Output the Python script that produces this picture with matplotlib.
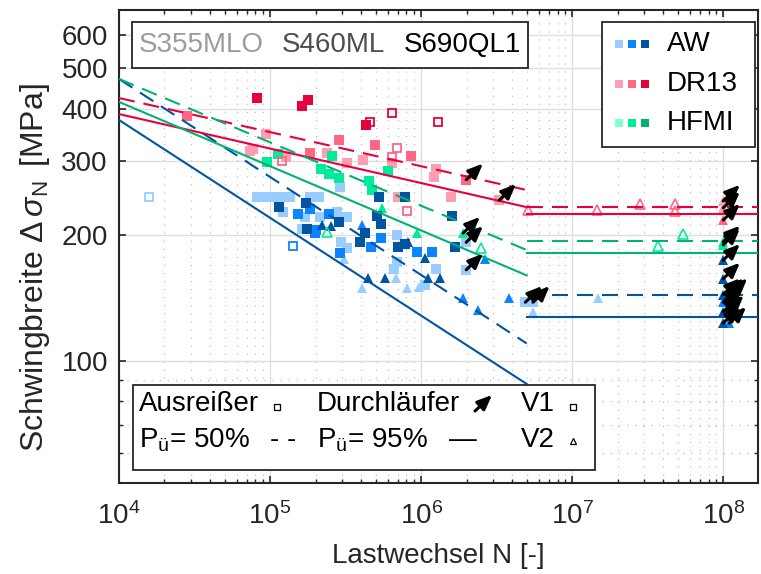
import numpy as np
import matplotlib
matplotlib.use('Agg')
import matplotlib.pyplot as plt
from matplotlib.ticker import FixedLocator, LogLocator, NullFormatter, FuncFormatter
from matplotlib.patches import Rectangle

FONT = 'Liberation Sans'
plt.rcParams['font.family'] = [FONT, 'DejaVu Sans']
plt.rcParams['mathtext.fontset'] = 'custom'
plt.rcParams['mathtext.rm'] = FONT
plt.rcParams['mathtext.it'] = FONT + ':italic'
plt.rcParams['mathtext.bf'] = FONT + ':bold'
plt.rcParams['lines.scale_dashes'] = False

FS = 20

# ---------------- data ----------------
# AW
AW_L_N = [8.2e4, 9.3e4, 1.05e5, 1.16e5, 1.36e5, 1.84e5, 2.11e5, 1.22e5, 1.71e5, 2.14e5, 2.78e5, 3.23e5,
          1.64e5, 2.91e5, 2.95e5, 3.23e5, 6.93e5, 6.63e5, 6.93e5, 1.06e6, 1.26e6, 1.99e6, 1.99e6, 4.9e6, 5.5e6]
AW_L_S = [247, 247, 247, 247, 247, 247, 247, 227, 221, 221, 227, 221,
          207, 260, 192, 186, 200, 166, 172, 152, 166, 192, 165, 138, 138]
AW_L_V2_N = [3.09e5, 4.07e5, 6.83e5, 8.08e5, 9.71e5, 5.5e6, 1.49e7]
AW_L_V2_S = [175, 149, 158, 149, 150, 131, 141]
AW_M_N = [1.53e5, 1.84e5, 2.46e5, 2.02e5, 1.99e5, 2.91e5, 4.67e5, 5.43e5, 9.42e5, 1.18e6]
AW_M_S = [224, 231, 224, 206, 202, 181, 187, 197, 182, 182]
AW_M_V2_N = [4.07e5, 1.90e6, 3.83e6, 2.38e6, 2.65e6]
AW_M_V2_S = [211, 141, 141, 132, 175]
AW_D_N = [1.15e5, 1.73e5, 1.76e5, 2.87e5, 3.95e5, 4.26e5, 5.11e5, 5.43e5, 5.27e5, 7.83e5, 7.04e5, 7.83e5, 1.60e6, 1.68e6]
AW_D_S = [233, 238, 207, 215, 192, 202, 222, 212, 247, 247, 187, 190, 222, 187]
AW_D_V2_N = [2.21e5, 2.53e5, 4.46e5, 5.78e5, 8.2e5, 1.06e6, 1.11e6, 1.34e6]
AW_D_V2_S = [211, 210, 158, 158, 192, 176, 158, 158]
AW_OUT_N = [1.58e4, 1.42e5]
AW_OUT_S = [247, 188]
AW_D_RO_N = [1.0e8, 1.0e8, 1.0e8, 1.06e8, 1.0e8, 1.0e8]
AW_D_RO_S = [174, 157, 144, 144, 131, 123]
AW_M_RO_N = [1.12e8, 1.0e8, 1.06e8, 1.06e8, 1.1e8]
AW_M_RO_S = [144, 138, 138, 131, 123]

# DR13
DR_L_N = [7.4e4, 7.7e4, 9.4e4, 1.28e5, 2.38e5, 3.23e5, 4.13e5, 6.42e5, 1.26e6, 1.22e6, 1.58e6, 7.04e5, 7.6e5, 3.29e6]
DR_L_S = [318, 321, 349, 307, 314, 297, 302, 297, 287, 275, 247, 247, 247, 242]
DR_L_RO_N = [1.0e8, 1.0e8]
DR_L_RO_S = [241, 232]
DR_L_OUT_N = [1.20e5, 6.42e5, 8.08e5]
DR_L_OUT_S = [300, 307, 228]
DR_M_N = [2.82e4, 1.84e5, 2.87e5, 4.96e5, 8.59e5, 1.99e6]
DR_M_S = [385, 314, 337, 328, 309, 271]
DR_M_RO_N = [1.0e8]
DR_M_RO_S = [217]
DR_M_OUT_N = [6.93e5]
DR_M_OUT_S = [322]
DR_OUT_V2_N = [5.12e6, 1.47e7, 2.82e7, 4.81e7, 4.81e7]
DR_OUT_V2_S = [229.5, 229.5, 237, 237, 228]
DR_D_N = [8.2e4, 1.63e5, 1.78e5, 4.32e5]
DR_D_S = [425, 407, 420, 366]
DR_D_OUT_N = [4.59e5, 6.42e5, 1.30e6]
DR_D_OUT_S = [372, 391, 372]

# HFMI
HF_M_N = [9.55e4, 1.13e5, 2.18e5, 2.46e5, 2.57e5, 2.87e5, 4.53e5, 4.73e5, 6.04e5]
HF_M_S = [299, 312, 287.5, 280, 309, 274, 269, 256, 284]
HF_M_V2_N = [5.52e5, 9.42e5, 1.90e6]
HF_M_V2_S = [232, 202, 202]
HF_M_RO_N = [1.0e8, 1.0e8]
HF_M_RO_S = [192.4, 189.3]
HF_OUT_V2_N = [2.38e5, 2.50e6, 3.71e7, 5.43e7]
HF_OUT_V2_S = [203, 186, 188, 201]

# runouts (Durchläufer) not at 1e8
RUN_N = [1.99e6, 3.29e6, 1.90e6, 1.99e6, 1.99e6, 4.9e6, 5.5e6]
RUN_S = [271, 242, 202, 192, 165, 138, 138]

# S-N curves
N_SLOPE = [1e4, 5e6]
N_FLAT = [5e6, 2e8]
AW_50 = [472, 110];  AW_95 = [376.5, 88]
DR_50 = [425, 256];  DR_95 = [389, 233]
HF_50 = [472, 184];  HF_95 = [416, 160]
AW_50_D = 143.8; AW_95_D = 127.4
DR_50_D = 233.3; DR_95_D = 224.4
HF_50_D = 193.4; HF_95_D = 181.1

# ---------------- colours ----------------
C_AW = ['#99CCFF', '#0A84FF', '#0054A2']
C_DR = ['#FF9EB1', '#FF6784', '#E8003D']
C_HF = ['#80FFD6', '#00EB9B', '#00B274']
L_AW, L_DR, L_HF = '#0054A2', '#E8003D', '#00B274'

fig = plt.figure(figsize=(7.61, 5.74), dpi=100)
ax = fig.add_axes([119/761, (574-483)/574, 639/761, 473/574])
ax.set_xscale('log'); ax.set_yscale('log')
ax.set_xlim(1e4, 1.7e8); ax.set_ylim(51, 690)

MS_SQ = 7.2
MS_TR = 7.8

def sq(N, S, c, z=3):
    ax.plot(N, S, ls='none', marker='s', ms=MS_SQ, mfc=c, mec=c, mew=0.0, zorder=z)

def tri(N, S, c, z=3):
    ax.plot(N, S, ls='none', marker='^', ms=MS_TR, mfc=c, mec=c, mew=0.0, zorder=z)

def osq(N, S, c, z=3):
    ax.plot(N, S, ls='none', marker='s', ms=6.4, mfc='none', mec=c, mew=1.3, zorder=z)

def otri(N, S, c, z=3):
    ax.plot(N, S, ls='none', marker='^', ms=7.0, mfc='none', mec=c, mew=1.2, zorder=z)

# light
sq(AW_L_N, AW_L_S, C_AW[0]); tri(AW_L_V2_N, AW_L_V2_S, C_AW[0])
sq(DR_L_N, DR_L_S, C_DR[0]); tri(DR_L_RO_N, DR_L_RO_S, C_DR[0])
# medium
sq(AW_M_N, AW_M_S, C_AW[1]); tri(AW_M_V2_N, AW_M_V2_S, C_AW[1]); tri(AW_M_RO_N, AW_M_RO_S, C_AW[1])
sq(DR_M_N, DR_M_S, C_DR[1]); tri(DR_M_RO_N, DR_M_RO_S, C_DR[1])
sq(HF_M_N, HF_M_S, C_HF[1]); tri(HF_M_V2_N, HF_M_V2_S, C_HF[1]); tri(HF_M_RO_N, HF_M_RO_S, C_HF[1])
# dark
sq(AW_D_N, AW_D_S, C_AW[2]); tri(AW_D_V2_N, AW_D_V2_S, C_AW[2]); tri(AW_D_RO_N, AW_D_RO_S, C_AW[2])
sq(DR_D_N, DR_D_S, C_DR[2])
# outliers
osq([AW_OUT_N[0]], [AW_OUT_S[0]], C_AW[0]); osq([AW_OUT_N[1]], [AW_OUT_S[1]], C_AW[1])
osq(DR_L_OUT_N, DR_L_OUT_S, C_DR[1]); osq(DR_M_OUT_N, DR_M_OUT_S, C_DR[1]); osq(DR_D_OUT_N, DR_D_OUT_S, C_DR[2])
otri(DR_OUT_V2_N, DR_OUT_V2_S, C_DR[1]); otri(HF_OUT_V2_N, HF_OUT_V2_S, C_HF[1])

# lines
DASH = (0, (11.5, 6.5))
LW = 1.5
for col, s50, s95, d50, d95 in [(L_AW, AW_50, AW_95, AW_50_D, AW_95_D),
                                 (L_DR, DR_50, DR_95, DR_50_D, DR_95_D),
                                 (L_HF, HF_50, HF_95, HF_50_D, HF_95_D)]:
    ax.plot(N_SLOPE, s50, color=col, lw=LW, ls=DASH, zorder=4)
    ax.plot(N_SLOPE, s95, color=col, lw=LW, ls='-', zorder=4)
    ax.plot(N_FLAT, [d50, d50], color=col, lw=LW, ls=DASH, zorder=4)
    ax.plot(N_FLAT, [d95, d95], color=col, lw=LW, ls='-', zorder=4)

# runout arrows
FX, FY = 1.29, 1.093
arrow_N = RUN_N + AW_D_RO_N + AW_M_RO_N + DR_L_RO_N + DR_M_RO_N + HF_M_RO_N
arrow_S = RUN_S + AW_D_RO_S + AW_M_RO_S + DR_L_RO_S + DR_M_RO_S + HF_M_RO_S
APROPS = dict(arrowstyle='-|>,head_length=0.8,head_width=0.34', color='k', lw=2.2,
              shrinkA=0, shrinkB=0, mutation_scale=11)
for n, s in zip(arrow_N, arrow_S):
    ax.annotate('', xy=(n*FX, s*FY), xytext=(n, s), arrowprops=APROPS, zorder=5, annotation_clip=False)

# axes styling
TC = '#262626'
ax.yaxis.set_major_locator(FixedLocator([100, 200, 300, 400, 500, 600]))
ax.yaxis.set_minor_locator(FixedLocator([60, 70, 80, 90]))
ax.yaxis.set_major_formatter(FuncFormatter(lambda v, p: '%d' % v))
ax.yaxis.set_minor_formatter(NullFormatter())
ax.xaxis.set_major_locator(LogLocator(base=10, numticks=20))
ax.xaxis.set_minor_locator(LogLocator(base=10, subs=np.arange(2, 10), numticks=50))
ax.xaxis.set_major_formatter(FuncFormatter(lambda v, p: r'$\mathregular{10^{%d}}$' % round(np.log10(v))))
ax.xaxis.set_minor_formatter(NullFormatter())
ax.tick_params(which='both', direction='in', top=True, right=True, color=TC, labelcolor=TC,
               labelsize=FS)
ax.tick_params(which='major', length=5, width=1.2)
ax.tick_params(which='minor', length=3, width=1.0)
ax.tick_params(axis='x', pad=14)
ax.tick_params(axis='y', pad=8)
for sp in ax.spines.values():
    sp.set_linewidth(1.5); sp.set_color(TC)
ax.grid(which='major', color='#DEDEDE', lw=1.0, ls='-', zorder=0)
ax.grid(which='minor', color='#B8B8B8', lw=0.9, ls=(0, (0.8, 5)), zorder=0)
ax.set_axisbelow(True)

ax.set_xlabel('Lastwechsel N [-]', fontsize=FS, color=TC, labelpad=9)
ax.set_ylabel(r'Schwingbreite $\Delta\,\sigma_{\mathrm{N}}\,$ [MPa]', fontsize=23, color=TC)
ax.yaxis.set_label_coords(-0.105, 0.455)

# ---------- legend boxes ----------
def box(x0, y0, x1, y1):
    ax.add_patch(Rectangle((x0, y0), x1-x0, y1-y0, transform=ax.transAxes, facecolor='white',
                           edgecolor=TC, lw=1.3, zorder=6))

def fx(px): return (px-119)/639
def fy(py): return (483-py)/473

# steels
box(fx(132), fy(68), fx(528), fy(22))
for t, xpx, c in [('S355MLO', 139, '#9C9C9C'), ('S460ML', 282, '#4D4D4D'), ('S690QL1', 404, '#000000')]:
    ax.text(fx(xpx), fy(45), t, color=c, fontsize=FS, va='center', ha='left', transform=ax.transAxes, zorder=7)

# groups
box(fx(602), fy(147), fx(755), fy(22))
for lab, cols, ypx in [('AW', C_AW, 44), ('DR13', C_DR, 84), ('HFMI', C_HF, 123)]:
    for c, xpx in zip(cols, [619, 632, 645]):
        ax.plot([fx(xpx)], [fy(ypx)], marker='s', ms=6, mfc=c, mec=c, mew=0, ls='none',
                transform=ax.transAxes, zorder=7)
    ax.text(fx(667), fy(ypx), lab, fontsize=FS, va='center', ha='left', transform=ax.transAxes, zorder=7)

# symbols
box(fx(133), fy(470), fx(595), fy(385))
r1, r2 = 404, 440
ax.text(fx(139), fy(r1), 'Ausreißer', fontsize=FS, va='center', ha='left', transform=ax.transAxes, zorder=7)
ax.plot([fx(277)], [fy(r1+3)], marker='s', ms=4.2, mfc='none', mec='k', mew=0.9, ls='none', transform=ax.transAxes, zorder=7)
ax.text(fx(317), fy(r1), 'Durchläufer', fontsize=FS, va='center', ha='left', transform=ax.transAxes, zorder=7)
ax.annotate('', xy=(fx(492), fy(395)), xytext=(fx(475), fy(411)), xycoords='axes fraction',
            textcoords='axes fraction', arrowprops=APROPS, zorder=7)
ax.text(fx(521), fy(r1), 'V1', fontsize=FS, va='center', ha='left', transform=ax.transAxes, zorder=7)
ax.plot([fx(573)], [fy(r1+3)], marker='s', ms=4.2, mfc='none', mec='k', mew=0.9, ls='none', transform=ax.transAxes, zorder=7)
ax.text(fx(139), fy(r2), r'P$_{\mathrm{ü}}$= 50%', fontsize=FS, va='center', ha='left', transform=ax.transAxes, zorder=7)
ax.text(fx(270), fy(r2), '- -', fontsize=FS, va='center', ha='left', transform=ax.transAxes, zorder=7)
ax.text(fx(317), fy(r2), r'P$_{\mathrm{ü}}$= 95%', fontsize=FS, va='center', ha='left', transform=ax.transAxes, zorder=7)
ax.text(fx(449), fy(r2), '—', fontsize=FS, va='center', ha='left', transform=ax.transAxes, zorder=7)
ax.text(fx(521), fy(r2), 'V2', fontsize=FS, va='center', ha='left', transform=ax.transAxes, zorder=7)
ax.plot([fx(573)], [fy(r2+1)], marker='^', ms=4.6, mfc='none', mec='k', mew=0.9, ls='none', transform=ax.transAxes, zorder=7)

fig.savefig('out.png', dpi=100)
